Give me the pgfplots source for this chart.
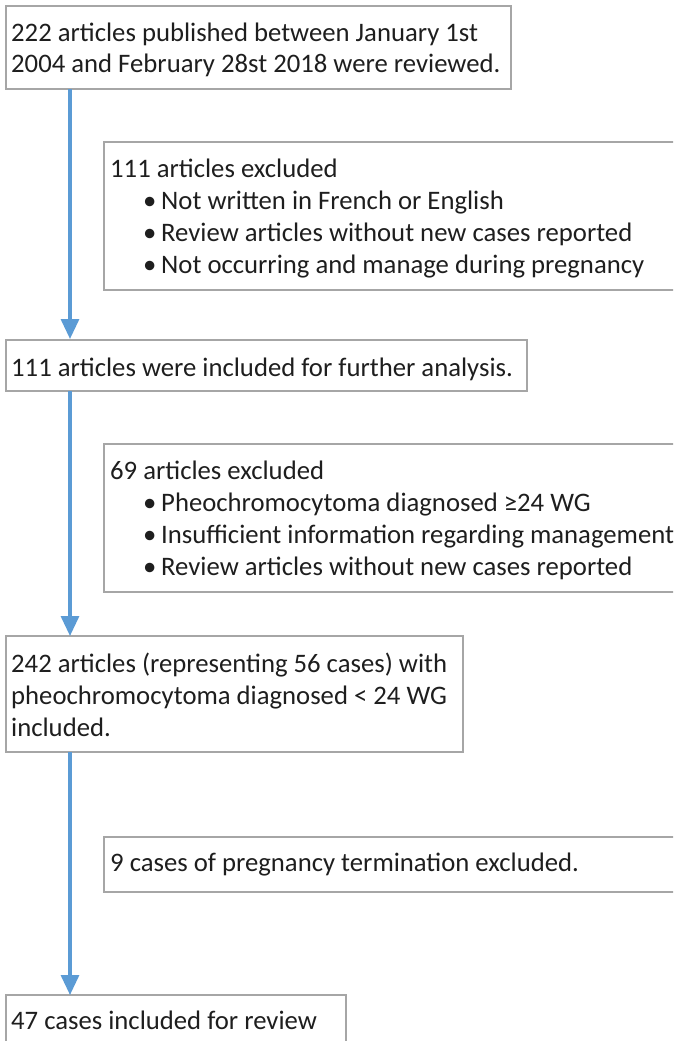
\documentclass[border=0pt]{standalone}
\usepackage{fontspec}
\setmainfont{Carlito}
\usepackage{pgfplots}
\pgfplotsset{compat=1.18}
\usetikzlibrary{arrows.meta}
\definecolor{boxc}{HTML}{A6A6A6}
\definecolor{arrc}{HTML}{5B9BD5}
\definecolor{txtc}{HTML}{1E1E1E}
\begin{document}
\begin{tikzpicture}
\begin{axis}[
  x=1pt, y=1pt, scale only axis,
  xmin=0, xmax=673, ymin=0, ymax=1041, y dir=reverse,
  hide axis, clip=true,
]
\addplot[draw=none] coordinates {(0,0) (673,1041)};
% boxes
\draw[boxc, line width=1.4pt] (axis cs:6,6) rectangle (axis cs:511,89);
\draw[boxc, line width=1.4pt] (axis cs:104,142) rectangle (axis cs:700,290);
\draw[boxc, line width=1.4pt] (axis cs:6,340) rectangle (axis cs:527,391);
\draw[boxc, line width=1.4pt] (axis cs:104,444) rectangle (axis cs:700,592);
\draw[boxc, line width=1.4pt] (axis cs:6,636) rectangle (axis cs:463,752);
\draw[boxc, line width=1.4pt] (axis cs:104,837) rectangle (axis cs:700,892);
\draw[boxc, line width=1.4pt] (axis cs:6,995) rectangle (axis cs:346,1060);
% arrows
\addplot[arrc, line width=3.2pt, -{Triangle[width=18pt,length=20pt]}] coordinates {(70,89) (70,339)};
\addplot[arrc, line width=3.2pt, -{Triangle[width=18pt,length=20pt]}] coordinates {(70,391) (70,636)};
\addplot[arrc, line width=3.2pt, -{Triangle[width=18pt,length=20pt]}] coordinates {(70,752) (70,995)};
% texts
\begin{scope}[every node/.style={anchor=base west, inner sep=0pt, text=txtc, font=\fontsize{26.7}{31.5}\selectfont}]
\node at (axis cs:11,42) {222 articles published between January 1st};
\node at (axis cs:11,73) {2004 and February 28st 2018 were reviewed.};
\node at (axis cs:110,177) {111 articles excluded};
\node at (axis cs:143,209) {•}; \node at (axis cs:161,209) {Not written in French or English};
\node at (axis cs:143,241) {•}; \node at (axis cs:161,241) {Review articles without new cases reported};
\node at (axis cs:143,273) {•}; \node at (axis cs:161,273) {Not occurring and manage during pregnancy};
\node at (axis cs:11,376) {111 articles were included for further analysis.};
\node at (axis cs:110,479) {69 articles excluded};
\node at (axis cs:143,511) {•}; \node at (axis cs:161,511) {Pheochromocytoma diagnosed ≥24 WG};
\node at (axis cs:143,543) {•}; \node at (axis cs:161,543) {Insufficient information regarding management};
\node at (axis cs:143,575) {•}; \node at (axis cs:161,575) {Review articles without new cases reported};
\node at (axis cs:11,672) {242 articles (representing 56 cases) with};
\node at (axis cs:11,704) {pheochromocytoma diagnosed < 24 WG};
\node at (axis cs:11,736) {included.};
\node at (axis cs:110,871) {9 cases of pregnancy termination excluded.};
\node at (axis cs:11,1029) {47 cases included for review};
\end{scope}
\end{axis}
\end{tikzpicture}
\end{document}
